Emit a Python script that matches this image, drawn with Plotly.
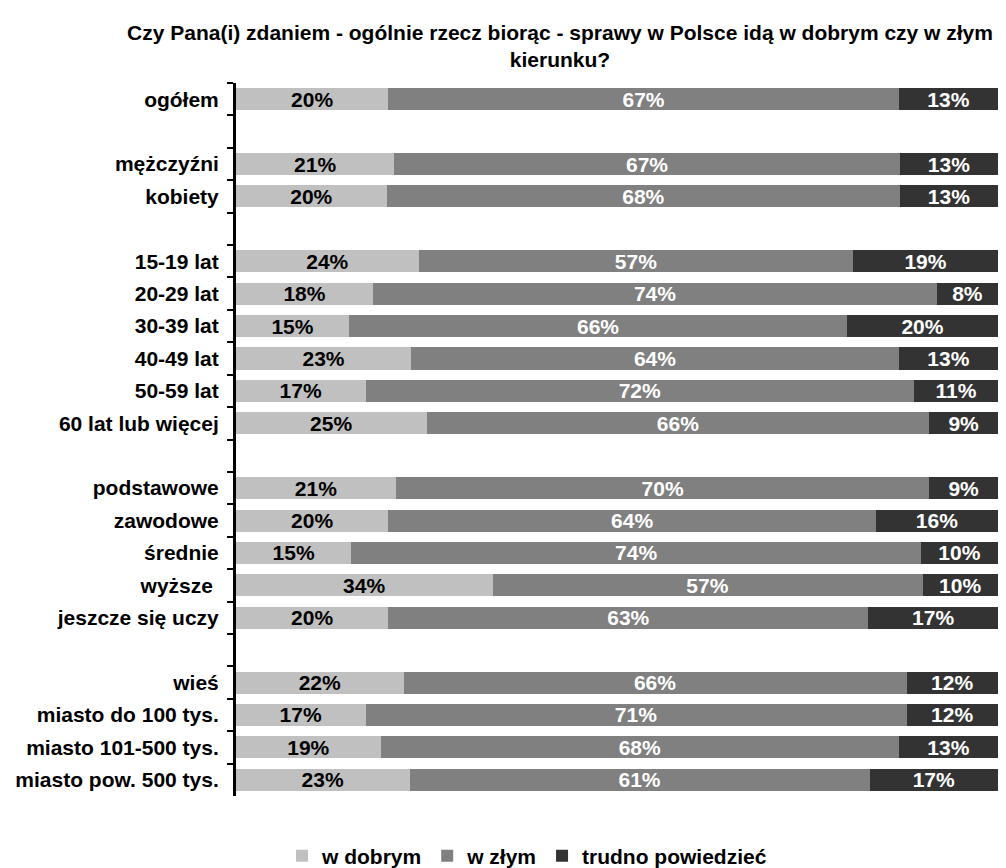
import plotly.graph_objects as go

categories = ["ogółem", " ", "mężczyźni", "kobiety", "  ", "15-19 lat", "20-29 lat", "30-39 lat",
              "40-49 lat", "50-59 lat", "60 lat lub więcej", "   ", "podstawowe", "zawodowe",
              "średnie", "wyższe ", "jeszcze się uczy", "    ", "wieś", "miasto do 100 tys.",
              "miasto 101-500 tys.", "miasto pow. 500 tys."]
w_dobrym = [20, None, 21, 20, None, 24, 18, 15, 23, 17, 25, None, 21, 20, 15, 34, 20, None, 22, 17, 19, 23]
w_zlym = [67, None, 67, 68, None, 57, 74, 66, 64, 72, 66, None, 70, 64, 74, 57, 63, None, 66, 71, 68, 61]
trudno = [13, None, 13, 13, None, 19, 8, 20, 13, 11, 9, None, 9, 16, 10, 10, 17, None, 12, 12, 13, 17]

series = [("w dobrym", w_dobrym, "#C0C0C0", "#000000"),
          ("w złym", w_zlym, "#808080", "#FFFFFF"),
          ("trudno powiedzieć", trudno, "#333333", "#FFFFFF")]

FONT = "Liberation Sans, Arial, sans-serif"
fig = go.Figure()
for name, vals, col, tcol in series:
    fig.add_trace(go.Bar(
        y=categories, x=vals, name=name, orientation="h",
        marker=dict(color=col, line=dict(width=0)),
        text=[f"{v}%" if v is not None else "" for v in vals],
        textposition="inside", insidetextanchor="middle", textangle=0,
        constraintext="none",
        textfont=dict(family=FONT, size=21, color=tcol, weight="bold"),
        hoverinfo="skip",
    ))

fig.update_layout(
    template="none",
    barmode="stack", barnorm="percent", bargap=0.32,
    width=1006, height=868,
    margin=dict(l=236, r=8, t=83, b=72, autoexpand=False),
    plot_bgcolor="white", paper_bgcolor="white",
    font=dict(family=FONT, size=21, color="#000000"),
    showlegend=True,
    legend=dict(orientation="h", x=527/1006, xanchor="center", xref="container",
                y=(868-856)/868, yanchor="middle", yref="container",
                font=dict(family=FONT, size=21, color="#000000", weight="bold"),
                traceorder="normal", itemwidth=30, tracegroupgap=0, bgcolor="rgba(0,0,0,0)"),
    title=dict(text="<b>Czy Pana(i) zdaniem - ogólnie rzecz biorąc - sprawy w Polsce idą w dobrym czy w złym<br>kierunku?</b>",
               x=560/1006, xanchor="center", y=1-40/868, yanchor="middle",
               xref="container", yref="container",
               font=dict(family=FONT, size=21, color="#000000")),
)

fig.update_xaxes(range=[0, 100], showticklabels=False, showgrid=False, zeroline=False,
                 showline=False, ticks="", fixedrange=True)
fig.update_yaxes(autorange="reversed", showgrid=False, zeroline=False,
                 showline=True, linecolor="#000000", linewidth=3,
                 ticks="outside", ticklen=6, tickwidth=2, tickcolor="#000000",
                 tickson="boundaries", ticklabelstandoff=10,
                 tickfont=dict(family=FONT, size=21, color="#000000", weight="bold"))

fig.write_html("out.html", config={"displayModeBar": False},
               post_script="document.body.style.margin='0';")
